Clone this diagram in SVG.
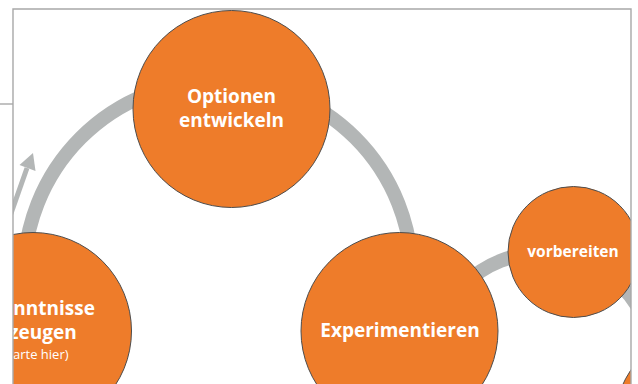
<svg xmlns="http://www.w3.org/2000/svg" width="638" height="384" viewBox="0 0 638 384">
<style>
.node{fill:#EE7C2A;stroke:#4d4d4d;stroke-width:1}
.ring{fill:none;stroke:#B3B6B6;stroke-width:14}
.t{font-family:"Open Sans","Liberation Sans",sans-serif;font-weight:bold;fill:#fff;text-anchor:middle}
.s{font-family:"Open Sans","Liberation Sans",sans-serif;font-weight:normal;fill:#fff;text-anchor:middle}
.frame{fill:none;stroke:#A8A8A8;stroke-width:1.4}
</style>
<defs>
<clipPath id="clip"><rect x="13" y="9" width="618" height="380"/></clipPath>
</defs>
<rect width="638" height="384" fill="#fff"/>
<g clip-path="url(#clip)">
<g id="connectors">
<circle class="ring" cx="218" cy="275" r="194"/>
<circle class="ring" cx="542" cy="365" r="112" stroke-width="12"/>
<line x1="8" y1="222" x2="27" y2="168" stroke="#B3B6B6" stroke-width="5"/>
<polygon points="33,153 35.5,171 19.5,165" fill="#B3B6B6"/>
</g>
<g id="node-optionen">
<circle class="node" cx="231.5" cy="109" r="98.5"/>
<text class="t" x="231.5" y="103" font-size="19">Optionen</text>
<text class="t" x="231.5" y="127" font-size="19">entwickeln</text>
</g>
<g id="node-experimentieren">
<circle class="node" cx="399.5" cy="331" r="98.5"/>
<text class="t" x="400" y="337" font-size="19">Experimentieren</text>
</g>
<g id="node-vorbereiten">
<circle class="node" cx="573.5" cy="252" r="65.5"/>
<text class="t" x="573" y="256.5" font-size="15.5">vorbereiten</text>
</g>
<g id="node-erkenntnisse">
<circle class="node" cx="33" cy="331" r="98.5"/>
<text class="t" x="33" y="315" font-size="19">Erkenntnisse</text>
<text class="t" x="33" y="339" font-size="19">erzeugen</text>
<text class="s" x="33" y="359" font-size="13">(Starte hier)</text>
</g>
<g id="node-lowerright">
<circle class="node" cx="712" cy="425" r="98"/>
</g>
</g>
<g id="frame">
<polyline class="frame" points="13,384 13,9 631,9 631,384"/>
<line class="frame" x1="0" y1="104" x2="13" y2="104"/>
</g>
</svg>
